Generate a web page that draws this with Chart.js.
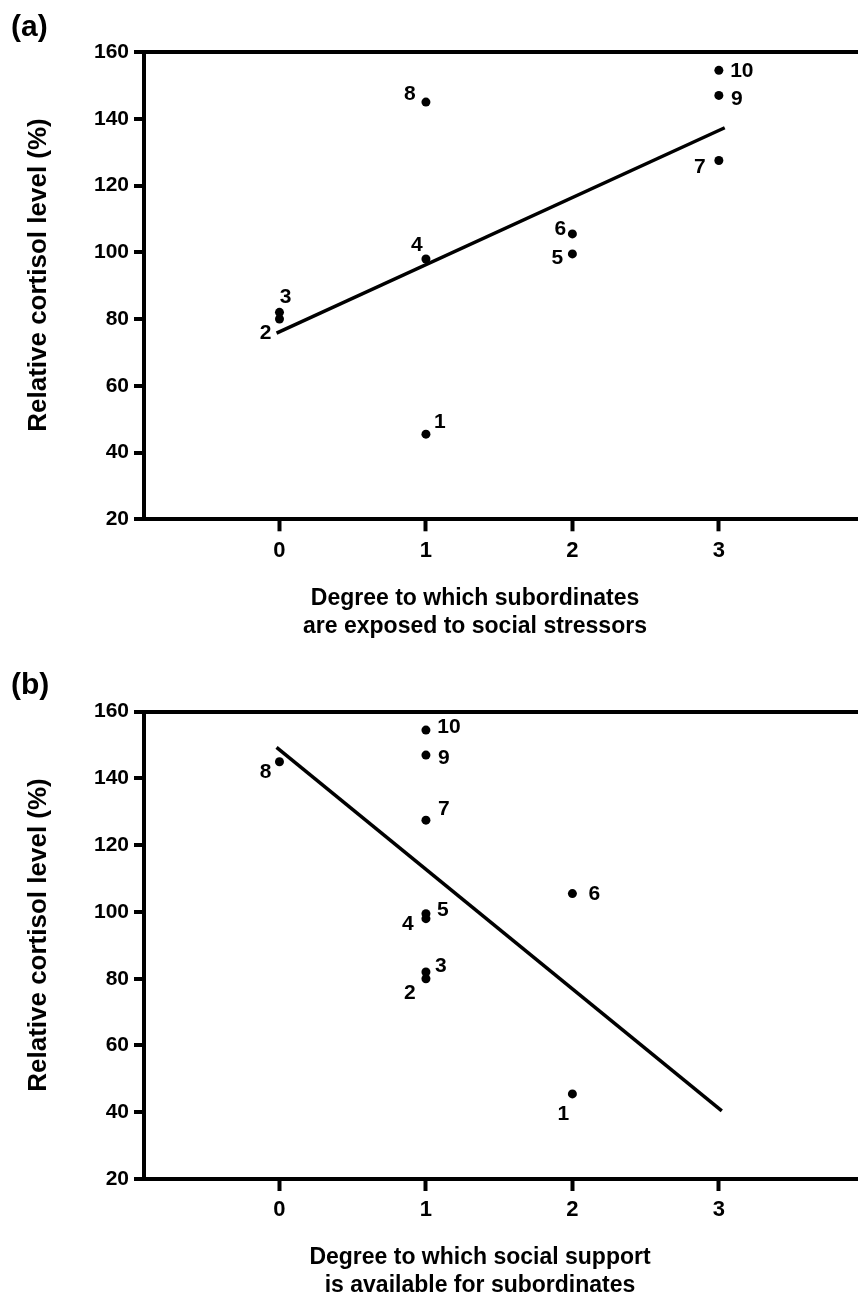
<!DOCTYPE html>
<html>
<head>
<meta charset="utf-8">
<script src="https://cdn.jsdelivr.net/npm/chart.js@4.4.1/dist/chart.umd.min.js"></script>
<style>
  body { margin: 0; background: #fff; }
  .panel { position: relative; width: 858px; height: 650px; }
</style>
</head>
<body>
<div class="panel"><canvas id="chart-a" width="858" height="650"></canvas></div>
<div class="panel"><canvas id="chart-b" width="858" height="650"></canvas></div>
<script>
// Subjects and their values
const subjects = ['1', '2', '3', '4', '5', '6', '7', '8', '9', '10'];
const cortisol = [45.5, 80, 82, 98, 99.5, 105.5, 127.5, 145, 147, 154.5];
const stressExposure = [1, 0, 0, 1, 2, 2, 3, 1, 3, 3];
const socialSupport = [2, 1, 1, 1, 1, 2, 1, 0, 1, 1];

// Regression lines (end points)
const fitStressX = [-0.02, 3.04];
const fitStressY = [75.8, 137.3];
const fitSupportX = [-0.02, 3.02];
const fitSupportY = [149.3, 40.4];

const xTicks = [0, 1, 2, 3];
const yTicks = [20, 40, 60, 80, 100, 120, 140, 160];

const FONT = "'Liberation Sans', Arial, Helvetica, sans-serif";

const pointLabelPlugin = {
    id: 'pointLabels',
    afterDatasetsDraw(chart, args, opts) {
        const ctx = chart.ctx;
        const meta = chart.getDatasetMeta(0);
        ctx.save();
        ctx.fillStyle = '#000';
        ctx.font = `bold 21px ${FONT}`;
        ctx.textAlign = 'center';
        ctx.textBaseline = 'middle';
        meta.data.forEach((pt, i) => {
            const off = opts.offsets[i];
            ctx.fillText(subjects[i], pt.x + off[0], pt.y + off[1] + 1);
        });
        ctx.restore();
    }
};

const titlesPlugin = {
    id: 'panelTitles',
    afterDraw(chart, args, opts) {
        const ctx = chart.ctx;
        ctx.save();
        ctx.fillStyle = '#000';
        ctx.textBaseline = 'alphabetic';

        ctx.font = `bold 30px ${FONT}`;
        ctx.textAlign = 'left';
        ctx.fillText(opts.letter, 11, opts.letterY);

        ctx.font = `bold 23px ${FONT}`;
        ctx.textAlign = 'center';
        opts.xTitle.forEach((line, i) => {
            ctx.fillText(line, opts.xTitleX, opts.xTitleY + i * 28);
        });

        ctx.translate(46, opts.yTitleY);
        ctx.rotate(-Math.PI / 2);
        ctx.font = `bold 26px ${FONT}`;
        ctx.fillText('Relative cortisol level (%)', 0, 0);
        ctx.restore();
    }
};

function buildChart(canvasId, xValues, fitX, fitY, cfg) {
    const points = xValues.map((v, i) => ({ x: v, y: cortisol[i] }));
    const fit = fitX.map((v, i) => ({ x: v, y: fitY[i] }));

    return new Chart(document.getElementById(canvasId), {
        type: 'scatter',
        data: {
            datasets: [
                {
                    data: points,
                    pointRadius: 4.5,
                    pointBackgroundColor: '#000',
                    pointBorderWidth: 0,
                    showLine: false
                },
                {
                    data: fit,
                    showLine: true,
                    pointRadius: 0,
                    borderColor: '#000',
                    borderWidth: 3.5,
                    fill: false
                }
            ]
        },
        plugins: [pointLabelPlugin, titlesPlugin],
        options: {
            responsive: false,
            animation: false,
            events: [],
            layout: {
                autoPadding: false,
                padding: { top: cfg.top, left: 0, right: 0, bottom: 0 }
            },
            scales: {
                x: {
                    type: 'linear',
                    min: -0.925,
                    max: 3.95,
                    afterBuildTicks: s => { s.ticks = xTicks.map(v => ({ value: v })); },
                    afterFit: s => { s.height = cfg.bottom; },
                    ticks: {
                        color: '#000',
                        padding: 6,
                        font: { family: FONT, size: 22, weight: 'bold' }
                    },
                    grid: {
                        drawOnChartArea: false,
                        tickLength: 12,
                        tickWidth: 4,
                        tickColor: '#000'
                    },
                    border: { color: '#000', width: 4 }
                },
                y: {
                    min: 20,
                    max: 160,
                    afterBuildTicks: s => { s.ticks = yTicks.map(v => ({ value: v })); },
                    afterFit: s => { s.width = 144; },
                    ticks: {
                        color: '#000',
                        padding: 5,
                        font: { family: FONT, size: 21, weight: 'bold' }
                    },
                    grid: {
                        color: c => (c.tick && c.tick.value === 160) ? '#000' : 'rgba(0,0,0,0)',
                        lineWidth: 4,
                        tickLength: 10,
                        tickWidth: 4,
                        tickColor: '#000'
                    },
                    border: { color: '#000', width: 4 }
                }
            },
            plugins: {
                legend: { display: false },
                tooltip: { enabled: false },
                pointLabels: { offsets: cfg.offsets },
                panelTitles: {
                    letter: cfg.letter,
                    letterY: cfg.letterY,
                    xTitle: cfg.xTitle,
                    xTitleX: cfg.xTitleX,
                    xTitleY: cfg.xTitleY,
                    yTitleY: cfg.yTitleY
                }
            }
        }
    });
}

buildChart('chart-a', stressExposure, fitStressX, fitStressY, {
    top: 52,
    bottom: 130.7,
    letter: '(a)',
    letterY: 36,
    xTitle: ['Degree to which subordinates', 'are exposed to social stressors'],
    xTitleX: 475,
    xTitleY: 605,
    yTitleY: 275,
    offsets: [[14, -13], [-14, 13], [6, -16], [-9, -15], [-15, 3], [-12, -6], [-19, 6], [-16, -9], [18, 3], [23, 0]]
});

buildChart('chart-b', socialSupport, fitSupportX, fitSupportY, {
    top: 61.7,
    bottom: 121,
    letter: '(b)',
    letterY: 44,
    xTitle: ['Degree to which social support', 'is available for subordinates'],
    xTitleX: 480,
    xTitleY: 614,
    yTitleY: 285,
    offsets: [[-9, 19], [-16, 13], [15, -7], [-18, 5], [17, -4], [22, 0], [18, -12], [-14, 9], [18, 2], [23, -4]]
});
</script>
</body>
</html>
